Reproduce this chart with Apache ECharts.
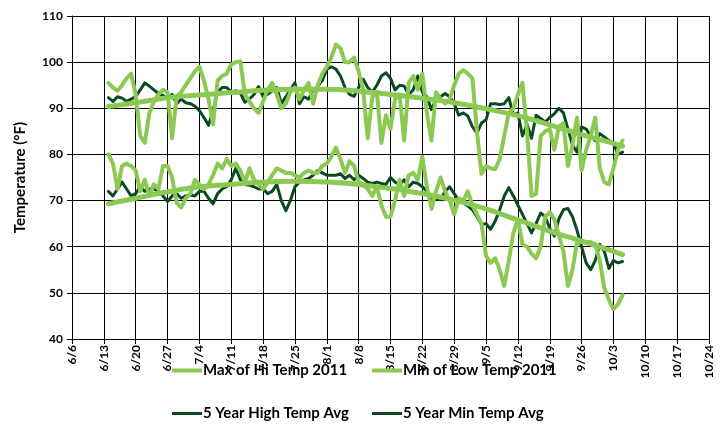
<!DOCTYPE html>
<html>
<head>
<meta charset="utf-8">
<script src="https://cdn.jsdelivr.net/npm/echarts@6/dist/echarts.min.js"></script>
<style>
  html, body { margin: 0; padding: 0; background: #fff; }
  #chart { width: 726px; height: 438px; }
</style>
</head>
<body>
<div id="chart"></div>
<script>
// Daily readings, one value per day starting on the first date below.
const firstDate = '2011-06-14';
const axisStartDate = '2011-06-06';
const axisDays = 140;            // 6/6 .. 10/24
const tickDays = 7;

const maxHi2011 = [
  95.5, 94.5, 93.8, 95, 96.5, 97.5, 93, 84, 82.5, 89,
  91.5, 93, 94, 93.5, 83.5, 92.5, 93.5, 95, 96.5, 98,
  99, 96, 92, 86.5, 96, 97, 97.5, 99.5, 100, 100.2,
  93, 91.5, 90, 89, 91.5, 94, 95.5, 93, 90, 91,
  93.5, 94.5, 92, 94, 95.5, 91, 95, 97.5, 99, 101,
  103.8, 103, 100, 100, 101, 98, 94, 83.5, 92.5, 93.5,
  82.5, 88.5, 85.5, 92, 93, 83, 95.5, 97, 94, 97.5,
  89, 83, 93.5, 92, 91, 92, 95, 97.5, 98.3, 97.5,
  96.5, 85, 75.8, 77.5, 77, 76.8, 79, 84, 89, 90,
  93, 95.5, 85, 71, 71.5, 84, 85, 85.5, 81, 86,
  86.8, 77.5, 82, 88, 76.5, 81, 84, 88, 77, 74,
  73.5, 77, 81, 83
];

const minLow2011 = [
  80, 78, 72.5, 77.5, 78, 77.5, 76.5, 72, 74.5, 71,
  73.5, 72.5, 77.5, 77.5, 75, 69.5, 68.5, 70.5, 71.5, 74.5,
  73.5, 72.5, 73.5, 75.5, 78, 77, 79, 77.5, 78, 76.5,
  74, 77, 74.5, 73.5, 72.5, 74, 75.5, 77, 76.5, 76,
  76, 75.5, 75, 76, 76.5, 76, 76, 77.5, 78, 79.5,
  81.5, 79, 76, 78.5, 77.5, 74, 73.5, 72.5, 71, 73,
  69, 66.5, 66.5, 70, 74.5, 71, 75.5, 76, 74.5, 79.5,
  73, 68.2, 72, 75, 72, 70, 67, 70.5, 70, 72,
  69, 67, 65, 58, 56.5, 57.5, 55, 51.5, 57, 63,
  66, 60.5, 60, 58.5, 57.5, 60, 66.5, 67.5, 66, 62.5,
  59, 51.5, 55, 61, 61, 61, 61, 60.5, 57, 51,
  48.5, 46.5, 47.5, 49.5
];

const highAvg5yr = [
  92.3, 91.5, 92.5, 92.2, 91.5, 92, 92.5, 94, 95.5, 94.8,
  94, 93.2, 92.8, 92, 93, 91, 92, 91.2, 91, 90.5,
  89.5, 88, 86.3, 89.5, 93.5, 94.5, 94.5, 93.5, 93.8, 93.3,
  91.3, 92, 93, 94.7, 92.5, 93, 93.8, 94.5, 91, 92.5,
  94, 95.5, 91, 92.5, 92, 94, 94.8, 96, 98.5, 99,
  98.5, 97, 94.5, 93, 92.6, 94.5, 96.3, 94.5, 93.5, 95,
  97, 97.7, 96.5, 94, 95, 94.8, 93, 94, 97, 93.5,
  92.5, 89.7, 92, 92.5, 93.2, 92.5, 91, 88.5, 89, 88.3,
  86, 84.6, 86.8, 87.5, 91, 91, 90.8, 91, 92.3, 88.5,
  89, 84, 86.5, 83.5, 88.5, 87.8, 87, 88, 88.8, 90,
  89, 85.5, 82, 80.5, 86, 85.5, 84, 83, 84.5, 83.8,
  83, 82.5, 80, 80.5
];

const minAvg5yr = [
  72, 71, 72.5, 74, 72.5, 71, 71.5, 73, 72, 72.5,
  72.5, 72, 71, 69.8, 71, 71.5, 70.5, 71, 71.2, 71,
  72, 72, 70.5, 69.3, 71.5, 72.5, 73, 74.5, 77, 74.5,
  73.5, 73.3, 73, 72.5, 72.5, 71.5, 72, 73.5, 70, 67.8,
  70, 73, 74, 74.5, 74.8, 75.5, 76.5, 76, 75.5, 75.5,
  75.5, 75.8, 74.8, 75.5, 74.5, 75.5, 74.8, 74, 73.7, 74,
  73.7, 73.5, 75, 74, 73.5, 74.5, 73, 74, 73.7, 73,
  72, 70, 70.5, 70.2, 72, 73, 71.5, 70, 69.5, 68.8,
  68, 66.5, 64.8, 65, 63.8, 65.5, 68, 71, 72.8, 71,
  69, 67, 65, 63, 65, 67.3, 66.5, 64, 62.3, 66,
  68, 68.3, 66.5, 63.5, 60, 56.5, 55, 57, 60.5, 59,
  55.3, 57, 56.5, 56.8
];

// Polynomial trend curves of the two 2011 series, sampled at these dates.
const trendDates = [
  '2011-06-14', '2011-06-20', '2011-06-27', '2011-07-04', '2011-07-11',
  '2011-07-18', '2011-07-25', '2011-08-01', '2011-08-08', '2011-08-15',
  '2011-08-22', '2011-08-29', '2011-09-05', '2011-09-12', '2011-09-19',
  '2011-09-26', '2011-10-03', '2011-10-05'
];
const maxHiTrend = [
  90.4, 91.2, 92.3, 92.9, 93.4, 93.9, 94.1, 94.1, 93.7, 93.0,
  92.2, 91.2, 89.9, 88.4, 86.4, 84.3, 82.4, 81.8
];
const minLowTrend = [
  69.3, 70.5, 71.9, 73.0, 73.5, 74.0, 74.2, 74.0, 73.5, 72.6,
  71.5, 70.1, 68.2, 65.8, 63.4, 61.2, 59.0, 58.3
];

const seriesNames = [
  'Max of Hi Temp 2011',
  'Min of Low Temp 2011',
  '5 Year High Temp Avg',
  '5 Year Min Temp Avg'
];
const yTicks = { min: 40, max: 110, step: 10 };

const LIGHT = '#8CC953';
const DARK = '#0A4A20';
const FONT = 'Lato, "Open Sans", sans-serif';

const DAY = 86400000;
const axisStart = Date.parse(axisStartDate + 'T00:00:00Z');
const dayOf = (iso) => Math.round((Date.parse(iso + 'T00:00:00Z') - axisStart) / DAY);
const offset = dayOf(firstDate);

function toPoints(values) {
  return values.map((v, i) => [offset + i, v]);
}

function dateLabel(v) {
  const d = new Date(axisStart + v * DAY);
  return (d.getUTCMonth() + 1) + '/' + d.getUTCDate();
}

const chart = echarts.init(document.getElementById('chart'), null, { renderer: 'canvas' });

const lineSeries = (name, values, color, width, z) => ({
  name, type: 'line', data: toPoints(values),
  showSymbol: false, symbol: 'none', smooth: false, z,
  lineStyle: { color, width, join: 'round', cap: 'round' },
  itemStyle: { color },
  emphasis: { disabled: true },
  animation: false
});

const trendSeries = (values) => ({
  type: 'line', data: values.map((v, i) => [dayOf(trendDates[i]), v]),
  showSymbol: false, symbol: 'none', smooth: 0.4, z: 10,
  lineStyle: { color: LIGHT, width: 5, cap: 'round' },
  emphasis: { disabled: true },
  animation: false,
  silent: true
});

const legendBase = {
  orient: 'horizontal', itemWidth: 30, icon: 'rect', itemGap: 0,
  selectedMode: false,
  textStyle: { fontFamily: FONT, fontWeight: 'bold', fontSize: 15, color: '#000', padding: [0, 0, 0, -4] }
};

chart.setOption({
  animation: false,
  backgroundColor: '#fff',
  grid: { left: 72, right: 17, top: 16, bottom: 99, containLabel: false, outerBoundsMode: 'none' },
  xAxis: {
    type: 'value', min: 0, max: axisDays, interval: tickDays,
    axisLine: { show: true, onZero: false, lineStyle: { color: '#000', width: 1 } },
    axisTick: { show: true, length: 5, lineStyle: { color: '#000' } },
    splitLine: { show: true, lineStyle: { color: '#000', width: 1 } },
    axisLabel: {
      rotate: 90, margin: 6, formatter: dateLabel,
      fontFamily: FONT, fontWeight: 'bold', fontSize: 12, color: '#000',
      showMinLabel: true, showMaxLabel: true
    }
  },
  yAxis: {
    type: 'value', min: yTicks.min, max: yTicks.max, interval: yTicks.step,
    name: 'Temperature (°F)', nameLocation: 'middle', nameGap: 44, nameRotate: 90,
    nameTextStyle: { fontFamily: FONT, fontWeight: 'bold', fontSize: 15, color: '#000' },
    axisLine: { show: true, lineStyle: { color: '#000', width: 1 } },
    axisTick: { show: true, length: 5, lineStyle: { color: '#000' } },
    splitLine: { show: true, lineStyle: { color: '#000', width: 1 } },
    axisLabel: { margin: 9, fontFamily: FONT, fontWeight: 'bold', fontSize: 12, color: '#000' }
  },
  legend: [
    Object.assign({}, legendBase, { data: [seriesNames[0]], left: 167, top: 358, itemHeight: 4 }),
    Object.assign({}, legendBase, { data: [seriesNames[1]], left: 367, top: 358, itemHeight: 4 }),
    Object.assign({}, legendBase, { data: [seriesNames[2]], left: 167, top: 401, itemHeight: 3 }),
    Object.assign({}, legendBase, { data: [seriesNames[3]], left: 367, top: 401, itemHeight: 3 })
  ],
  series: [
    lineSeries(seriesNames[2], highAvg5yr, DARK, 3, 2),
    lineSeries(seriesNames[3], minAvg5yr, DARK, 3, 2),
    lineSeries(seriesNames[0], maxHi2011, LIGHT, 4, 3),
    lineSeries(seriesNames[1], minLow2011, LIGHT, 4, 3),
    trendSeries(maxHiTrend),
    trendSeries(minLowTrend)
  ]
});
</script>
</body>
</html>
